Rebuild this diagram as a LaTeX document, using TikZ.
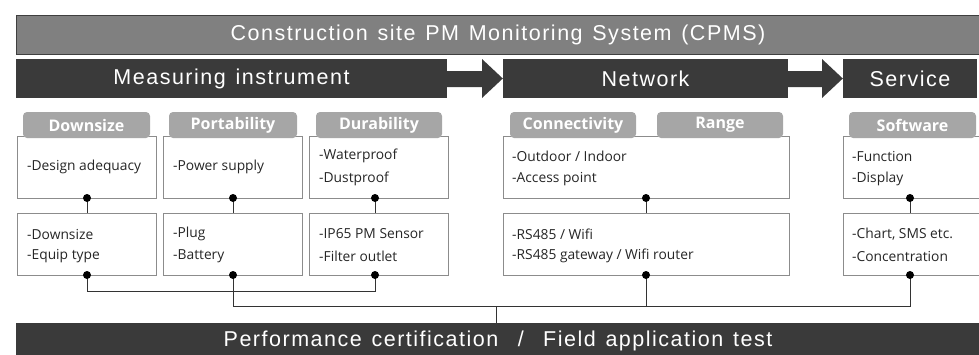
\documentclass[tikz,border=0pt]{standalone}
\usepackage{fontspec}
\setmainfont{Liberation Sans}
\newfontfamily\bigfont[LetterSpace=7,WordSpace=1.3]{Liberation Sans}
\newfontfamily\bxfont{Open Sans}
\definecolor{hdrgray}{HTML}{808080}
\definecolor{hdrline}{HTML}{3F3F3F}
\definecolor{darkbar}{HTML}{3A3A3A}
\definecolor{tabgray}{HTML}{A6A6A6}
\definecolor{boxline}{HTML}{8C8C8C}
\definecolor{txtcol}{HTML}{262626}
\definecolor{wirecol}{HTML}{333333}
\tikzset{
  hdr/.style={fill=hdrgray,draw=hdrline,line width=0.8pt,inner sep=0pt,text=white,font=\bigfont\fontsize{21.5}{24}\selectfont},
  bar/.style={fill=darkbar,draw=none,inner sep=0pt,text=white,font=\bigfont\fontsize{21.5}{24}\selectfont},
  tab/.style={fill=tabgray,draw=none,rounded corners=4pt,inner sep=0pt,minimum height=26pt,text=white,font=\bxfont\bfseries\fontsize{16}{18}\selectfont},
  box/.style={fill=white,draw=boxline,line width=0.8pt,inner sep=0pt,minimum height=62pt},
  txt/.style={anchor=west,inner sep=0pt,text=txtcol,font=\bxfont\fontsize{13.8}{15}\selectfont},
  wire/.style={draw=wirecol,line width=1pt},
  dot/.style={circle,fill=black,inner sep=0pt,minimum size=8pt},
  blockarrow/.style={fill=darkbar,draw=none}
}
\begin{document}
\begin{tikzpicture}[x=1pt,y=-1pt]
\useasboundingbox (0,0) rectangle (979,354);
% header
\node[hdr,minimum width=964pt,minimum height=39pt] (hdr) at (498,34.5) {Construction site PM Monitoring System (CPMS)};
% stage bars
\node[bar,minimum width=431pt,minimum height=39pt] (meas) at (231.5,78.5) {Measuring instrument};
\node[bar,minimum width=285pt,minimum height=39pt] (net) at (645.5,78.5) {Network};
\node[bar,minimum width=134pt,minimum height=39pt] (serv) at (910,78.5) {Service};
% block arrows
\fill[blockarrow] (meas.east |- 0,71) -- (482,71) -- (482,59) -- (net.west) -- (482,98) -- (482,87) -- (meas.east |- 0,87) -- cycle;
\fill[blockarrow] (net.east |- 0,71) -- (822,71) -- (822,59) -- (serv.west) -- (822,98) -- (822,87) -- (net.east |- 0,87) -- cycle;
% upper boxes
\node[box,minimum width=139pt] (b1) at (86.5,167) {};
\node[box,minimum width=139pt] (b2) at (232.5,167) {};
\node[box,minimum width=139pt] (b3) at (378.5,167) {};
\node[box,minimum width=286pt] (b4) at (646,167) {};
\node[box,minimum width=139pt] (b5) at (912.5,167) {};
% tabs
\node[tab,minimum width=127pt] (t1) at (86.5,125) {Downsize};
\node[tab,minimum width=128pt] (t2) at (233,125) {Portability};
\node[tab,minimum width=126pt] (t3) at (379,125) {Durability};
\node[tab,minimum width=126pt] (t4) at (573,125) {Connectivity};
\node[tab,minimum width=126pt] (t5) at (720,125) {Range};
\node[tab,minimum width=127pt] (t6) at (912.5,125) {Software};
% lower boxes
\node[box,minimum width=139pt] (c1) at (86.5,244) {};
\node[box,minimum width=139pt] (c2) at (232.5,244) {};
\node[box,minimum width=139pt] (c3) at (378.5,244) {};
\node[box,minimum width=286pt] (c4) at (646,244) {};
\node[box,minimum width=139pt] (c5) at (912.5,244) {};
% upper texts
\node[txt] (u1) at (27,167) {-Design adequacy};
\node[txt] (u2) at (173,167) {-Power supply};
\node[txt] (u3a) at (319,156) {-Waterproof};
\node[txt] (u3b) at (319,179) {-Dustproof};
\node[txt] (u4a) at (512,156) {-Outdoor / Indoor};
\node[txt] (u4b) at (512,179) {-Access point};
\node[txt] (u5a) at (852,156) {-Function};
\node[txt] (u5b) at (852,179) {-Display};
% lower texts
\node[txt] (l1a) at (27,234) {-Downsize};
\node[txt] (l1b) at (27,256) {-Equip type};
\node[txt] (l2a) at (173,234) {-Plug};
\node[txt] (l2b) at (173,256) {-Battery};
\node[txt] (l3a) at (319,234) {-IP65 PM Sensor};
\node[txt] (l3b) at (319,256) {-Filter outlet};
\node[txt] (l4a) at (512,234) {-RS485 / Wifi};
\node[txt] (l4b) at (512,256) {-RS485 gateway / Wifi router};
\node[txt] (l5a) at (852,234) {-Chart, SMS etc.};
\node[txt] (l5b) at (852,256) {-Concentration};
% bottom bar
\node[bar,minimum width=964pt,minimum height=36pt] (perf) at (498,341) {Performance certification~~/~~Field application test};
% dots
\coordinate (d1) at (87,198);
\coordinate (d2) at (233,198);
\coordinate (d3) at (375,198);
\coordinate (d4) at (646,198);
\coordinate (d5) at (910,198);
\coordinate (e1) at (87,275);
\coordinate (e2) at (233,275);
\coordinate (e3) at (375,275);
\coordinate (e4) at (646,275);
\coordinate (e5) at (910,275);
% vertical links between upper and lower boxes
\draw[wire] (d1) -- (d1 |- c1.north);
\draw[wire] (d2) -- (d2 |- c2.north);
\draw[wire] (d3) -- (d3 |- c3.north);
\draw[wire] (d4) -- (d4 |- c4.north);
\draw[wire] (d5) -- (d5 |- c5.north);
% bottom wiring
\draw[wire] (e1) -- (87,291) -- (375,291) -- (e3);
\draw[wire] (e2) -- (233,306) -- (910,306) -- (e5);
\draw[wire] (e4) -- (646,306);
\coordinate (j) at (496,306);
\draw[wire] (j) -- (j |- perf.north);
\foreach \p in {d1,d2,d3,d4,d5,e1,e2,e3,e4,e5} \node[dot] (n\p) at (\p) {};
\end{tikzpicture}
\end{document}
